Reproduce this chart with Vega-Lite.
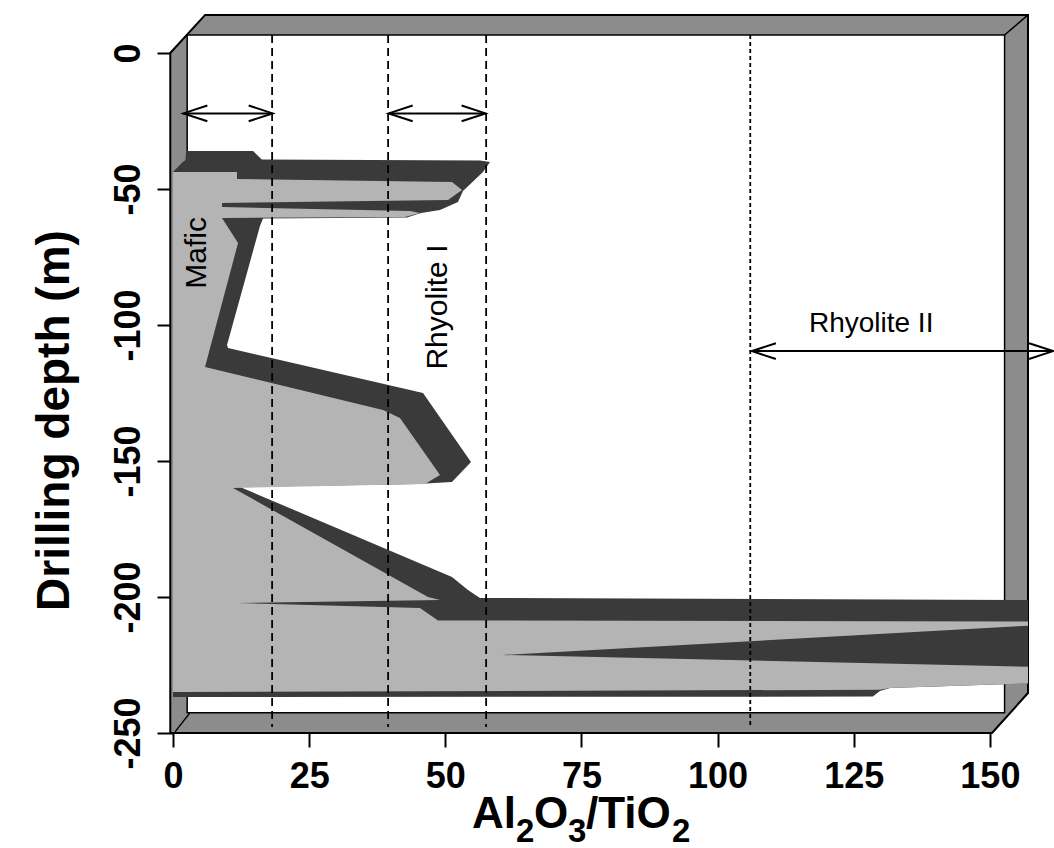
{
  "$schema": "https://vega.github.io/schema/vega-lite/v6.json",
  "width": 855,
  "height": 733,
  "autosize": {"type": "none"},
  "padding": {"left": 173, "top": 0, "right": 26, "bottom": 115},
  "background": "white",
  "config": {"view": {"stroke": null}, "font": "Liberation Sans"},
  "datasets": {
    "frame": [
      {"i": 1, "m": 14.0, "lo": 5.9, "hi": 157},
      {"i": 2, "m": 0, "lo": -0.5, "hi": 157},
      {"i": 3, "m": -235.3, "lo": -0.5, "hi": 157},
      {"i": 4, "m": -250, "lo": -0.5, "hi": 150.4}
    ],
    "panel": [{"x1": 2.6, "x2": 152.7, "y1": 6.6, "y2": -242.6}],
    "miter": [
      {"x1": 3.1, "y1": -242.6, "x2": 0.37, "y2": -249.6},
      {"x1": 152.7, "y1": 6.6, "x2": 157, "y2": 14}
    ],
    "dark": [
      {"i": 1, "m": -36.03, "lo": 2.4, "hi": 14.7},
      {"i": 2, "m": -39.15, "lo": 2.3, "hi": 16.3},
      {"i": 3, "m": -39.52, "lo": 2.2, "hi": 56.37},
      {"i": 4, "m": -40.07, "lo": 1.8, "hi": 58.21},
      {"i": 5, "m": -43.75, "lo": 0, "hi": 56.92},
      {"i": 6, "m": -50.74, "lo": 0, "hi": 53.25},
      {"i": 7, "m": -54.78, "lo": 0, "hi": 52.33},
      {"i": 8, "m": -57.72, "lo": 0, "hi": 49.03},
      {"i": 9, "m": -58.82, "lo": 0, "hi": 45.54},
      {"i": 10, "m": -60.48, "lo": 0, "hi": 42.97},
      {"i": 11, "m": -60.85, "lo": 0, "hi": 16.53},
      {"i": 12, "m": -63.6, "lo": 0, "hi": 15.97},
      {"i": 13, "m": -107.35, "lo": 0, "hi": 9.92},
      {"i": 14, "m": -108.46, "lo": 0, "hi": 10.1},
      {"i": 15, "m": -125.0, "lo": 0, "hi": 45.91},
      {"i": 16, "m": -150.37, "lo": 0, "hi": 54.72},
      {"i": 17, "m": -157.72, "lo": 0, "hi": 51.23},
      {"i": 18, "m": -158.46, "lo": 0, "hi": 44.8},
      {"i": 19, "m": -159.56, "lo": 0, "hi": 12.3},
      {"i": 20, "m": -192.65, "lo": 0, "hi": 51.23},
      {"i": 21, "m": -197.43, "lo": 0, "hi": 54.17},
      {"i": 22, "m": -200.37, "lo": 0, "hi": 56.37},
      {"i": 23, "m": -201.1, "lo": 0, "hi": 159.2},
      {"i": 24, "m": -231.62, "lo": 0, "hi": 159.2},
      {"i": 25, "m": -233.46, "lo": 0, "hi": 131.66},
      {"i": 26, "m": -234.6, "lo": 0, "hi": 129.82},
      {"i": 27, "m": -236.6, "lo": 0, "hi": 128.5},
      {"i": 28, "m": -236.8, "lo": 0, "hi": 0}
    ],
    "light": [
      {"i": 1, "m": -43.75, "hi": 11.75},
      {"i": 2, "m": -46.32, "hi": 11.75},
      {"i": 3, "m": -47.43, "hi": 51.23},
      {"i": 4, "m": -50.37, "hi": 53.07},
      {"i": 5, "m": -54.04, "hi": 50.5},
      {"i": 6, "m": -55.15, "hi": 9.0},
      {"i": 7, "m": -56.62, "hi": 9.0},
      {"i": 8, "m": -58.09, "hi": 43.52},
      {"i": 9, "m": -58.82, "hi": 45.35},
      {"i": 10, "m": -60.29, "hi": 42.6},
      {"i": 11, "m": -60.66, "hi": 9.0},
      {"i": 12, "m": -69.85, "hi": 11.94},
      {"i": 13, "m": -115.44, "hi": 5.88},
      {"i": 14, "m": -131.25, "hi": 38.56},
      {"i": 15, "m": -134.19, "hi": 41.68},
      {"i": 16, "m": -155.15, "hi": 49.03},
      {"i": 17, "m": -158.46, "hi": 46.27},
      {"i": 18, "m": -159.93, "hi": 11.02},
      {"i": 19, "m": -200.0, "hi": 46.82},
      {"i": 20, "m": -201.1, "hi": 49.03},
      {"i": 21, "m": -202.21, "hi": 11.75},
      {"i": 22, "m": -204.04, "hi": 45.35},
      {"i": 23, "m": -208.64, "hi": 48.66},
      {"i": 24, "m": -209.01, "hi": 159.2},
      {"i": 25, "m": -210.29, "hi": 159.2},
      {"i": 26, "m": -221.32, "hi": 60.41},
      {"i": 27, "m": -225.74, "hi": 159.2},
      {"i": 28, "m": -231.62, "hi": 159.2},
      {"i": 29, "m": -233.46, "hi": 131.66},
      {"i": 30, "m": -234.1, "hi": 129.82},
      {"i": 31, "m": -234.93, "hi": 0.37}
    ],
    "refs": [
      {"x": 18.2, "k": "a"},
      {"x": 39.5, "k": "a"},
      {"x": 57.5, "k": "a"},
      {"x": 106.0, "k": "b"}
    ],
    "arrows": [
      {"y": -22.2, "x1": 1.9, "x2": 18.3},
      {"y": -22.2, "x1": 39.6, "x2": 57.4},
      {"y": -109.6, "x1": 106.3, "x2": 161.6}
    ],
    "vlabels": [
      {"t": "Mafic", "x": 4.4, "m": -73.5},
      {"t": "Rhyolite I", "x": 48.7, "m": -93.4}
    ],
    "hlabels": [
      {"t": "Rhyolite II", "x": 128.2, "m": -99.6}
    ],
    "xtitle_main": [
      {"t": "Al", "x": 54.9, "m": -284.9},
      {"t": "O", "x": 66.29, "m": -284.9},
      {"t": "/TiO", "x": 75.84, "m": -284.9}
    ],
    "xtitle_sub": [
      {"t": "2", "x": 62.98, "m": -290.1},
      {"t": "3", "x": 72.53, "m": -290.1},
      {"t": "2", "x": 91.63, "m": -290.1}
    ]
  },
  "layer": [
    {
      "data": {"name": "frame"},
      "mark": {"type": "area", "orient": "horizontal", "fill": "#8c8c8c", "stroke": "black", "strokeWidth": 2},
      "encoding": {
        "y": {"field": "m", "type": "quantitative",
          "scale": {"domain": [-250, 19.485], "nice": false, "zero": false},
          "axis": {"values": [0, -50, -100, -150, -200, -250], "domain": false, "grid": false,
            "tickSize": 16, "tickWidth": 2, "tickColor": "black",
            "labelExpr": "'' + datum.value", "labelAngle": 270, "labelAlign": "center", "labelBaseline": "alphabetic",
            "labelPadding": 18, "labelFont": "Liberation Sans", "labelFontWeight": "bold", "labelFontSize": 36, "labelColor": "black",
            "labelOverlap": false, "labelFlush": false,
            "title": "Drilling depth (m)", "titleFont": "Liberation Sans", "titleFontWeight": "bold", "titleFontSize": 46, "titleColor": "black",
            "titleAngle": 270, "titleAlign": "center", "titleBaseline": "alphabetic", "titleX": -105, "titleY": 420}},
        "x": {"field": "hi", "type": "quantitative",
          "scale": {"domain": [0, 157], "nice": false, "zero": false},
          "axis": {"values": [0, 25, 50, 75, 100, 125, 150], "domain": false, "grid": false,
            "tickSize": 14, "tickWidth": 2, "tickColor": "black",
            "labelPadding": 12, "labelBaseline": "top", "labelFont": "Liberation Sans", "labelFontWeight": "bold", "labelFontSize": 36, "labelColor": "black",
            "labelOverlap": false, "labelFlush": false,
            "title": null}},
        "x2": {"field": "lo"}
      }
    },
    {
      "data": {"name": "panel"},
      "mark": {"type": "rect", "fill": "white", "stroke": "black", "strokeWidth": 1.5},
      "encoding": {
        "x": {"field": "x1", "type": "quantitative"},
        "x2": {"field": "x2"},
        "y": {"field": "y1", "type": "quantitative"},
        "y2": {"field": "y2"}
      }
    },
    {
      "data": {"name": "miter"},
      "mark": {"type": "rule", "color": "black", "strokeWidth": 1.5},
      "encoding": {
        "x": {"field": "x1", "type": "quantitative"},
        "x2": {"field": "x2"},
        "y": {"field": "y1", "type": "quantitative"},
        "y2": {"field": "y2"}
      }
    },
    {
      "data": {"name": "dark"},
      "mark": {"type": "area", "orient": "horizontal", "fill": "#3a3a3a", "clip": true},
      "encoding": {
        "y": {"field": "m", "type": "quantitative"},
        "x": {"field": "hi", "type": "quantitative"},
        "x2": {"field": "lo"}
      }
    },
    {
      "data": {"name": "light"},
      "mark": {"type": "area", "orient": "horizontal", "fill": "#b4b4b4", "clip": true},
      "encoding": {
        "y": {"field": "m", "type": "quantitative"},
        "x": {"field": "hi", "type": "quantitative", "stack": null}
      }
    },
    {
      "data": {"name": "refs"},
      "mark": {"type": "rule", "color": "black", "strokeWidth": 1.8},
      "encoding": {
        "x": {"field": "x", "type": "quantitative"},
        "y": {"datum": 6.6, "type": "quantitative"},
        "y2": {"datum": -247.8},
        "strokeDash": {"field": "k", "type": "nominal", "scale": {"domain": ["a", "b"], "range": [[8, 5], [4, 3]]}, "legend": null}
      }
    },
    {
      "data": {"name": "arrows"},
      "mark": {"type": "rule", "color": "black", "strokeWidth": 2},
      "encoding": {
        "x": {"field": "x1", "type": "quantitative"},
        "x2": {"field": "x2"},
        "y": {"field": "y", "type": "quantitative"}
      }
    },
    {
      "data": {"name": "arrows"},
      "mark": {"type": "point", "shape": "M1,-0.33L0,0L1,0.33", "size": 2304, "filled": false, "stroke": "black", "strokeWidth": 2, "opacity": 1},
      "encoding": {
        "x": {"field": "x1", "type": "quantitative"},
        "y": {"field": "y", "type": "quantitative"}
      }
    },
    {
      "data": {"name": "arrows"},
      "mark": {"type": "point", "shape": "M-1,-0.33L0,0L-1,0.33", "size": 2304, "filled": false, "stroke": "black", "strokeWidth": 2, "opacity": 1},
      "encoding": {
        "x": {"field": "x2", "type": "quantitative"},
        "y": {"field": "y", "type": "quantitative"}
      }
    },
    {
      "data": {"name": "vlabels"},
      "mark": {"type": "text", "angle": 270, "font": "Liberation Sans", "fontSize": 30, "align": "center", "baseline": "middle", "color": "black"},
      "encoding": {
        "x": {"field": "x", "type": "quantitative"},
        "y": {"field": "m", "type": "quantitative"},
        "text": {"field": "t"}
      }
    },
    {
      "data": {"name": "hlabels"},
      "mark": {"type": "text", "font": "Liberation Sans", "fontSize": 28, "align": "center", "baseline": "middle", "color": "black"},
      "encoding": {
        "x": {"field": "x", "type": "quantitative"},
        "y": {"field": "m", "type": "quantitative"},
        "text": {"field": "t"}
      }
    },
    {
      "data": {"name": "xtitle_main"},
      "mark": {"type": "text", "font": "Liberation Sans", "fontWeight": "bold", "fontSize": 44, "align": "left", "baseline": "alphabetic", "color": "black"},
      "encoding": {
        "x": {"field": "x", "type": "quantitative"},
        "y": {"field": "m", "type": "quantitative"},
        "text": {"field": "t"}
      }
    },
    {
      "data": {"name": "xtitle_sub"},
      "mark": {"type": "text", "font": "Liberation Sans", "fontWeight": "bold", "fontSize": 33, "align": "left", "baseline": "alphabetic", "color": "black"},
      "encoding": {
        "x": {"field": "x", "type": "quantitative"},
        "y": {"field": "m", "type": "quantitative"},
        "text": {"field": "t"}
      }
    }
  ]
}
